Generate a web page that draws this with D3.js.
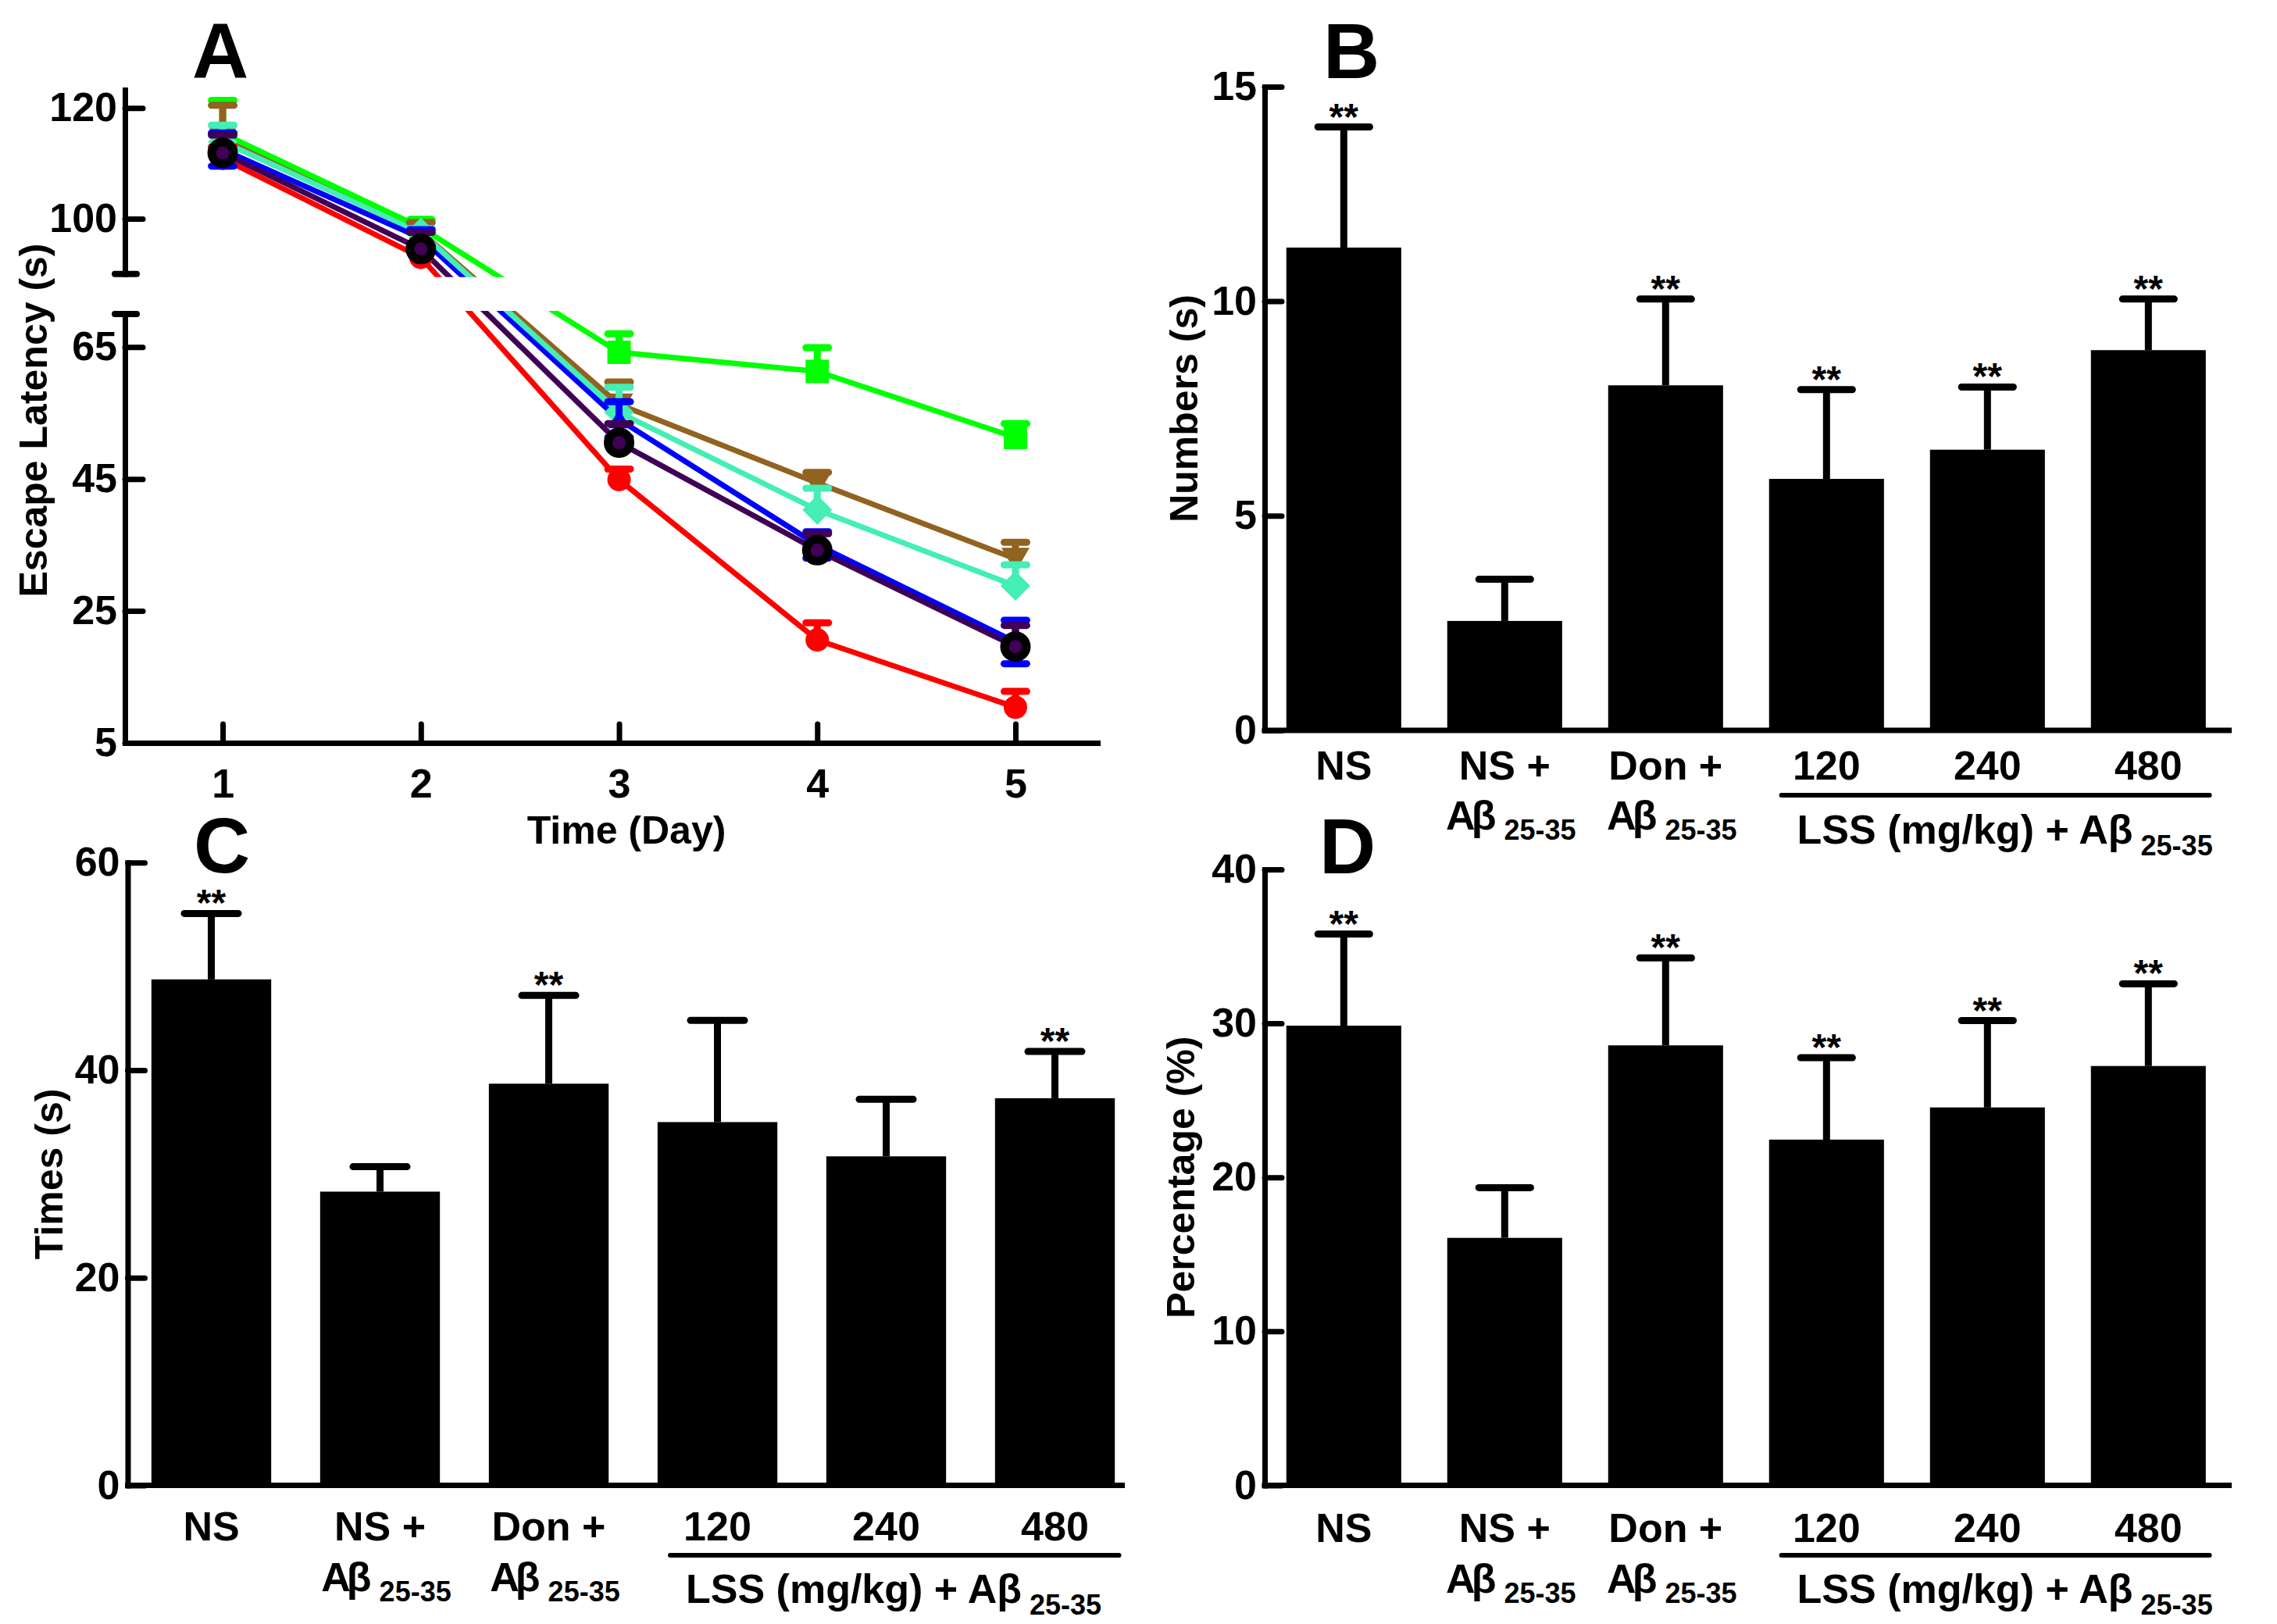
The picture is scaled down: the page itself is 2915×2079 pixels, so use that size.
<!DOCTYPE html>
<html><head><meta charset="utf-8">
<script src="https://cdn.jsdelivr.net/npm/d3@7"></script>
<style>
body{margin:0;background:#fff}
text{font-family:"Liberation Sans",Arial,Helvetica,sans-serif;font-weight:bold;fill:#000}
</style>
</head><body>
<svg id="chart" width="2915" height="2079"></svg>
<script>
// ---------------- Panel A data (escape latency, mean and SEM per day) ----------------
const days = [1, 2, 3, 4, 5];
const dayTickLabels = ["1", "2", "3", "4", "5"];
const latencyUpperTicks = [100, 120];
const latencyLowerTicks = [5, 25, 45, 65];
const latencyRed    = [110.9, 93.0, 44.9, 20.6, 10.4];
const semRed        = [2.1, 2.0, 1.6, 2.6, 2.4];
const latencyGreen  = [115.4, 98.4, 64.2, 61.3, 51.3];
const semGreen      = [6.0, 1.4, 2.8, 3.6, 2.1];
const latencyBrown  = [114.6, 97.6, 56.3, 44.4, 32.9];
const semBrown      = [5.9, 1.7, 3.4, 1.6, 2.5];
const latencyAqua   = [113.9, 97.5, 55.1, 40.3, 28.8];
const semAqua       = [3.0, 0.7, 3.8, 3.3, 3.2];
const latencyBlue   = [112.5, 96.5, 54.0, 35.0, 20.3];
const semBlue       = [3.0, 1.5, 2.7, 2.0, 3.3];
const latencyPurple = [111.9, 94.5, 50.5, 34.2, 19.6];
const semPurple     = [3.2, 3.0, 2.9, 2.5, 3.2];

// ---------------- Bar panels data ----------------
const barCategories = ["NS", "NS + Aβ25-35", "Don + Aβ25-35", "LSS120", "LSS240", "LSS480"];
const labelLine1 = ["NS", "NS +", "Don +", "120", "240", "480"];
const labelLine2 = ["", "Aβ", "Aβ", "", "", ""];
const subscriptText = "25-35";
const groupLabel = "LSS (mg/kg) + Aβ";

const numbersMean = [11.25, 2.55, 8.04, 5.86, 6.54, 8.86];
const numbersSem  = [2.81, 0.97, 2.01, 2.08, 1.46, 1.19];
const numbersSig  = [true, false, true, true, true, true];
const numbersTicks = [0, 5, 10, 15];

const timesMean = [48.75, 28.3, 38.7, 35.0, 31.7, 37.3];
const timesSem  = [6.35, 2.4, 8.5, 9.8, 5.5, 4.5];
const timesSig  = [true, false, true, false, false, true];
const timesTicks = [0, 20, 40, 60];

const percentMean = [29.85, 16.07, 28.57, 22.45, 24.54, 27.23];
const percentSem  = [5.95, 3.26, 5.68, 5.32, 5.64, 5.34];
const percentSig  = [true, false, true, true, true, true];
const percentTicks = [0, 10, 20, 30, 40];

// ---------------- drawing ----------------
const svg = d3.select("#chart");
svg.append("rect").attr("width", 2915).attr("height", 2079).attr("fill", "#fff");

function styleAxis(g, fs) {
  g.attr("font-family", null).attr("font-size", null);
  g.select(".domain").attr("stroke", "#000").attr("stroke-width", 7).attr("stroke-linecap", "square");
  g.selectAll(".tick line").attr("stroke", "#000").attr("stroke-width", 7).attr("stroke-linecap", "round");
  g.selectAll(".tick text").attr("font-size", fs).attr("fill", "#000");
}

function panelLetter(t, x, y) {
  svg.append("text").attr("x", x).attr("y", y).attr("text-anchor", "middle")
    .attr("font-size", 100).text(t);
}
function yTitle(t, x, y, fs) {
  svg.append("text").attr("transform", `translate(${x},${y}) rotate(-90)`)
    .attr("text-anchor", "middle").attr("font-size", fs).text(t);
}
function abetaTspans(t, txt) {
  // "A" followed by a tightly kerned "β"
  t.append("tspan").text(txt.slice(0, 1));
  t.append("tspan").attr("dx", -5).text(txt.slice(1));
}

// ===== Panel A =====
(function () {
  const g = svg.append("g");
  const xA = d3.scaleLinear().domain([0.507, 5.414]).range([160, 1405]);
  const yA = d3.scaleLinear().domain([5, 70, 90, 123.3]).range([951, 402, 350.7, 115]);
  const yAU = d3.scaleLinear().domain([90, 123.3]).range([350.7, 115]);
  const yAL = d3.scaleLinear().domain([5, 70]).range([951, 402]);

  const series = {
    red:    {mean: latencyRed,    sem: semRed,    color: "#ff0000", marker: "circle"},
    green:  {mean: latencyGreen,  sem: semGreen,  color: "#00ff00", marker: "square"},
    brown:  {mean: latencyBrown,  sem: semBrown,  color: "#916220", marker: "down"},
    aqua:   {mean: latencyAqua,   sem: semAqua,   color: "#44eeb4", marker: "diamond"},
    blue:   {mean: latencyBlue,   sem: semBlue,   color: "#0000ff", marker: "up", both: true},
    purple: {mean: latencyPurple, sem: semPurple, color: "#3f0055", marker: "ring"}
  };
  const lineOrder = ["brown", "blue", "red", "aqua", "green", "purple"];
  const pointOrder = ["red", "green", "brown", "aqua", "blue", "purple"];

  const line = d3.line().x((d, i) => xA(days[i])).y(d => yA(d));
  lineOrder.forEach(k => {
    const s = series[k];
    g.append("path").attr("d", line(s.mean)).attr("fill", "none")
      .attr("stroke", s.color).attr("stroke-width", 7).attr("stroke-linejoin", "round");
  });

  // axis break gap
  g.append("rect").attr("x", 164).attr("y", yAU(90) + 4).attr("width", 1405 - 164)
    .attr("height", yAL(70) - yAU(90) - 8).attr("fill", "#fff");

  pointOrder.forEach(k => {
    const s = series[k];
    days.forEach((d, i) => {
      const x = xA(d);
      const ends = [s.mean[i] + s.sem[i]];
      if (s.both) ends.push(s.mean[i] - s.sem[i]);
      ends.forEach(v => {
        g.append("line").attr("x1", x).attr("x2", x).attr("y1", yA(s.mean[i])).attr("y2", yA(v))
          .attr("stroke", s.color).attr("stroke-width", 9);
        g.append("line").attr("x1", x - 14.5).attr("x2", x + 14.5).attr("y1", yA(v)).attr("y2", yA(v))
          .attr("stroke", s.color).attr("stroke-width", 9).attr("stroke-linecap", "round");
      });
      const y = yA(s.mean[i]);
      if (s.marker === "circle") {
        g.append("circle").attr("cx", x).attr("cy", y).attr("r", 15).attr("fill", s.color);
      } else if (s.marker === "ring") {
        g.append("circle").attr("cx", x).attr("cy", y).attr("r", 14).attr("fill", s.color)
          .attr("stroke", "#000").attr("stroke-width", 11);
      } else {
        let p;
        if (s.marker === "square") p = `M${x - 15},${y - 15}h30v30h-30Z`;
        else if (s.marker === "down") p = `M${x - 18},${y - 14}h36L${x},${y + 17}Z`;
        else if (s.marker === "up") p = `M${x},${y - 14}L${x + 14},${y + 11}H${x - 14}Z`;
        else p = `M${x},${y - 19}L${x + 19},${y}L${x},${y + 19}L${x - 19},${y}Z`;
        g.append("path").attr("d", p).attr("fill", s.color);
      }
    });
  });

  const ax1 = g.append("g").attr("transform", "translate(160,0)")
    .call(d3.axisLeft(yAU).tickValues(latencyUpperTicks).tickSize(-23).tickSizeOuter(0).tickPadding(10));
  styleAxis(ax1, 52);
  const ax2 = g.append("g").attr("transform", "translate(160,0)")
    .call(d3.axisLeft(yAL).tickValues(latencyLowerTicks).tickSize(-23).tickSizeOuter(0).tickPadding(10));
  styleAxis(ax2, 52);
  [yAU(90), yAL(70)].forEach(y => {
    g.append("line").attr("x1", 147).attr("x2", 175).attr("y1", y).attr("y2", y)
      .attr("stroke", "#000").attr("stroke-width", 8).attr("stroke-linecap", "round");
  });
  const ax3 = g.append("g").attr("transform", "translate(0,951)")
    .call(d3.axisBottom(xA).tickValues(days).tickFormat((d, i) => dayTickLabels[i])
      .tickSize(-24).tickSizeOuter(0).tickPadding(33));
  styleAxis(ax3, 52);

  svg.append("text").attr("x", 802).attr("y", 1080).attr("text-anchor", "middle")
    .attr("font-size", 50).text("Time (Day)");
  yTitle("Escape Latency (s)", 60, 538, 50);
  panelLetter("A", 282, 100);
})();

// ===== Bar panels =====
function barPanel(cfg) {
  const g = svg.append("g");
  const y = d3.scaleLinear().domain([0, cfg.ymax]).range([cfg.y0, cfg.yTop]);
  const x = d3.scaleBand().domain(barCategories)
    .range([cfg.x0, cfg.x0 + barCategories.length * cfg.step])
    .paddingInner(cfg.padIn).paddingOuter(cfg.padIn / 2);
  const bw = x.bandwidth();
  const cx = c => x(c) + bw / 2;
  const capHalf = bw * 0.225;

  barCategories.forEach((c, i) => {
    const top = y(cfg.mean[i] + cfg.sem[i]);
    g.append("line").attr("x1", cx(c)).attr("x2", cx(c)).attr("y1", y(cfg.mean[i])).attr("y2", top)
      .attr("stroke", "#000").attr("stroke-width", 9);
    g.append("line").attr("x1", cx(c) - capHalf).attr("x2", cx(c) + capHalf).attr("y1", top).attr("y2", top)
      .attr("stroke", "#000").attr("stroke-width", 9).attr("stroke-linecap", "round");
    if (cfg.sig[i]) {
      g.append("text").attr("x", cx(c)).attr("y", top + 3).attr("text-anchor", "middle")
        .attr("font-size", 48).attr("font-weight", "normal").text("**");
    }
  });
  g.selectAll("rect.bar").data(barCategories).enter().append("rect").attr("class", "bar")
    .attr("x", c => x(c)).attr("width", bw)
    .attr("y", (c, i) => y(cfg.mean[i])).attr("height", (c, i) => y(0) - y(cfg.mean[i]))
    .attr("fill", "#000");

  const ay = g.append("g").attr("transform", `translate(${cfg.axisX},0)`)
    .call(d3.axisLeft(y).tickValues(cfg.ticks).tickSize(-22).tickSizeOuter(0).tickPadding(10));
  styleAxis(ay, 52);
  g.append("line").attr("x1", cfg.axisX - 3.5).attr("x2", cfg.axisEnd).attr("y1", y(0)).attr("y2", y(0))
    .attr("stroke", "#000").attr("stroke-width", 7);

  // category labels
  barCategories.forEach((c, i) => {
    g.append("text").attr("x", cx(c)).attr("y", cfg.l1).attr("text-anchor", "middle")
      .attr("font-size", 52).text(labelLine1[i]);
    if (labelLine2[i]) {
      const t = g.append("text").attr("x", cx(c) + 8).attr("y", cfg.l2).attr("text-anchor", "middle")
        .attr("font-size", 52);
      abetaTspans(t, labelLine2[i]);
      t.append("tspan").attr("font-size", 36).attr("dy", 13).text(" " + subscriptText);
    }
  });
  const ux0 = cx(barCategories[3]) - 0.28 * cfg.step;
  const ux1 = cx(barCategories[5]) + 0.38 * cfg.step;
  g.append("line").attr("x1", ux0).attr("x2", ux1).attr("y1", cfg.ul).attr("y2", cfg.ul)
    .attr("stroke", "#000").attr("stroke-width", 6).attr("stroke-linecap", "round");
  const gt = g.append("text").attr("x", ux0 + 20).attr("y", cfg.lss).attr("font-size", 52);
  gt.append("tspan").text(groupLabel);
  gt.append("tspan").attr("font-size", 36).attr("dy", 15).text(" " + subscriptText);

  yTitle(cfg.title, cfg.titleX, (cfg.y0 + cfg.yTop) / 2, 50);
  panelLetter(cfg.letter, cfg.letterX, cfg.letterY);
}

barPanel({mean: numbersMean, sem: numbersSem, sig: numbersSig, ticks: numbersTicks, ymax: 15,
  x0: 1617.3, step: 206, padIn: 0.286, y0: 935, yTop: 110.9, axisX: 1619, axisEnd: 2857,
  l1: 998, l2: 1062, ul: 1018, lss: 1080, title: "Numbers (s)", titleX: 1533,
  letter: "B", letterX: 1730, letterY: 100});
barPanel({mean: timesMean, sem: timesSem, sig: timesSig, ticks: timesTicks, ymax: 60,
  x0: 162.5, step: 216, padIn: 0.29, y0: 1901.5, yTop: 1104.3, axisX: 163.5, axisEnd: 1440,
  l1: 1972, l2: 2037, ul: 1991, lss: 2052, title: "Times (s)", titleX: 80,
  letter: "C", letterX: 284, letterY: 1117});
barPanel({mean: percentMean, sem: percentSem, sig: percentSig, ticks: percentTicks, ymax: 40,
  x0: 1617.3, step: 206, padIn: 0.286, y0: 1901.5, yTop: 1112.9, axisX: 1619, axisEnd: 2857,
  l1: 1974, l2: 2039, ul: 1991, lss: 2052, title: "Percentage (%)", titleX: 1529,
  letter: "D", letterX: 1725, letterY: 1118});
</script>
</body></html>
